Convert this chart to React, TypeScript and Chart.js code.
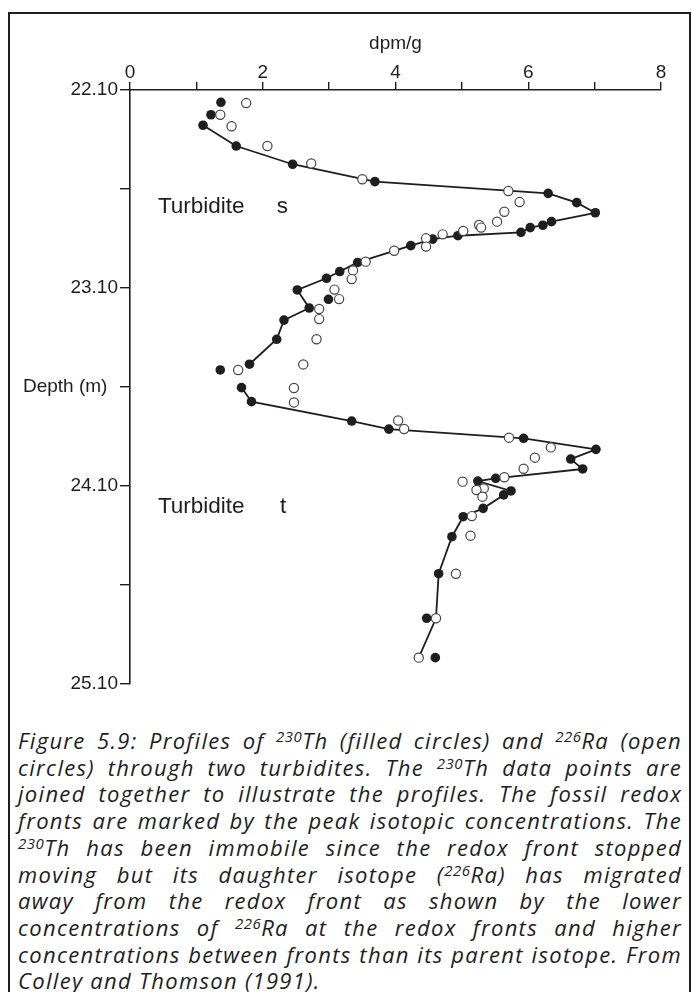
import React, { useEffect, useRef } from "react";
import { Chart, registerables } from "chart.js";

Chart.register(...registerables);

// 230Th (filled circles): activity (dpm/g) and depth (m)
const thValue = [1.37, 1.22, 1.10, 1.60, 2.45, 3.69, 6.30, 6.73, 7.01, 6.35, 6.22, 6.03, 5.89, 4.94, 4.56, 4.23, 3.43, 3.16, 2.96, 2.52, 2.99, 2.70, 2.32, 2.21, 1.80, 1.36, 1.68, 1.83, 3.34, 3.90, 5.93, 7.02, 6.64, 6.82, 5.51, 5.24, 5.74, 5.63, 5.32, 5.02, 4.85, 4.65, 4.47, 4.60];
const thDepth = [22.162, 22.225, 22.278, 22.383, 22.475, 22.563, 22.622, 22.669, 22.720, 22.765, 22.783, 22.795, 22.819, 22.836, 22.853, 22.886, 22.971, 23.017, 23.051, 23.110, 23.157, 23.201, 23.262, 23.359, 23.485, 23.514, 23.603, 23.674, 23.772, 23.813, 23.859, 23.915, 23.964, 24.014, 24.061, 24.075, 24.125, 24.145, 24.213, 24.255, 24.356, 24.543, 24.768, 24.967];

// 226Ra (open circles)
const raValue = [1.75, 1.36, 1.53, 2.07, 2.73, 3.50, 5.70, 5.87, 5.64, 5.53, 5.26, 5.29, 5.02, 4.71, 4.46, 4.46, 3.98, 3.55, 3.36, 3.34, 3.08, 3.15, 2.85, 2.85, 2.81, 2.61, 1.63, 2.47, 2.47, 4.04, 4.13, 5.71, 6.34, 6.10, 5.93, 5.64, 5.01, 5.33, 5.22, 5.31, 5.15, 5.13, 4.91, 4.61, 4.35];
const raDepth = [22.166, 22.225, 22.283, 22.383, 22.471, 22.551, 22.610, 22.666, 22.715, 22.765, 22.782, 22.795, 22.812, 22.829, 22.849, 22.891, 22.912, 22.967, 23.011, 23.055, 23.108, 23.156, 23.206, 23.257, 23.359, 23.486, 23.514, 23.605, 23.678, 23.769, 23.812, 23.856, 23.905, 23.957, 24.013, 24.056, 24.078, 24.112, 24.120, 24.154, 24.252, 24.351, 24.543, 24.768, 24.967];

// Joined profile (null = break in the line)
const profileValue = [1.10, 1.60, 2.45, 3.69, 6.30, 6.73, 7.01, 6.35, 6.22, 6.03, 5.89, 4.94, 4.56, 4.23, 3.43, 3.16, 2.96, 2.52, 2.70, 2.32, 2.21, 1.80, null, 1.68, 1.83, 3.34, 3.90, 5.93, 7.02, 6.64, 6.82, 5.51, 5.24, 5.74, 5.63, 5.32, 5.02, 4.85, 4.65, 4.61, 4.35];
const profileDepth = [22.278, 22.383, 22.475, 22.563, 22.622, 22.669, 22.720, 22.765, 22.783, 22.795, 22.819, 22.836, 22.853, 22.886, 22.971, 23.017, 23.051, 23.110, 23.201, 23.262, 23.359, 23.485, null, 23.603, 23.674, 23.772, 23.813, 23.859, 23.915, 23.964, 24.014, 24.061, 24.075, 24.125, 24.145, 24.213, 24.255, 24.356, 24.543, 24.768, 24.967];

const xTickLabels = ["0", "", "2", "", "4", "", "6", "", "8"];
const yTickValues = [22.1, 22.6, 23.1, 23.6, 24.1, 24.6, 25.1];
const yTickLabels = ["22.10", "", "23.10", "Depth (m)  ", "24.10", "", "25.10"];

const annotations = [
  { text: "Turbidite", x: 0.42, y: 22.69 },
  { text: "s", x: 2.21, y: 22.69 },
  { text: "Turbidite", x: 0.42, y: 24.205 },
  { text: "t", x: 2.26, y: 24.205 },
];

const INK = "#1e1e1e";
const FONT = '"Liberation Sans", Arial, Helvetica, sans-serif';

const labelPlugin = {
  id: "turbiditeLabels",
  afterDatasetsDraw(chart: any) {
    const { ctx, scales } = chart;
    ctx.save();
    ctx.font = `22.5px ${FONT}`;
    ctx.fillStyle = INK;
    ctx.textBaseline = "middle";
    ctx.textAlign = "left";
    for (const a of annotations) {
      ctx.fillText(a.text, scales.x.getPixelForValue(a.x), scales.y.getPixelForValue(a.y));
    }
    ctx.restore();
  },
};

function Sup({ children }: { children: React.ReactNode }) {
  return (
    <span style={{ fontSize: "0.68em", lineHeight: 0, verticalAlign: "0.5em", letterSpacing: "0.5px" }}>{children}</span>
  );
}

const lineStyle: React.CSSProperties = {
  textAlign: "justify",
  textAlignLast: "justify" as any,
  whiteSpace: "nowrap",
};

export default function App() {
  const canvasRef = useRef<HTMLCanvasElement | null>(null);

  useEffect(() => {
    const canvas = canvasRef.current;
    if (!canvas) return;
    const chart = new Chart(canvas, {
      type: "scatter",
      data: {
        datasets: [
          {
            label: "226Ra",
            data: raValue.map((v, i) => ({ x: v, y: raDepth[i] })),
            pointRadius: 4.6,
            pointBackgroundColor: "#ffffff",
            pointBorderColor: "#444444",
            pointBorderWidth: 1.2,
            showLine: false,
          },
          {
            label: "230Th",
            data: thValue.map((v, i) => ({ x: v, y: thDepth[i] })),
            pointRadius: 4.8,
            pointBackgroundColor: INK,
            pointBorderColor: INK,
            pointBorderWidth: 0,
            showLine: false,
          },
          {
            label: "profile",
            data: profileValue.map((v, i) => ({ x: v as any, y: profileDepth[i] as any })),
            pointRadius: 0,
            showLine: true,
            borderColor: INK,
            borderWidth: 1.8,
            tension: 0,
            spanGaps: false,
          },
        ],
      },
      options: {
        responsive: false,
        animation: false,
        devicePixelRatio: 1,
        layout: { padding: { top: 20, left: 0, right: 31, bottom: 36 } },
        plugins: { legend: { display: false }, tooltip: { enabled: false } },
        scales: {
          x: {
            type: "linear",
            position: "top",
            min: 0,
            max: 8,
            ticks: {
              stepSize: 1,
              color: INK,
              font: { family: FONT, size: 19, lineHeight: 1 },
              padding: 0,
              maxRotation: 0,
              autoSkip: false,
              callback: (_v: any, i: number) => xTickLabels[i],
            },
            grid: { drawOnChartArea: false, tickLength: 8, color: INK, lineWidth: 1.4 },
            border: { display: true, color: INK, width: 1.6 },
            title: {
              display: true,
              text: "dpm/g",
              color: INK,
              font: { family: FONT, size: 19 },
              padding: { top: 12, bottom: 0 },
            },
            afterFit: (s: any) => {
              s.height = 70;
            },
          },
          y: {
            type: "linear",
            position: "left",
            reverse: true,
            min: 22.1,
            max: 25.1,
            afterBuildTicks: (s: any) => {
              s.ticks = yTickValues.map((v) => ({ value: v }));
            },
            ticks: {
              color: INK,
              font: { family: FONT, size: 19, lineHeight: 1 },
              padding: 2,
              autoSkip: false,
              callback: (_v: any, i: number) => yTickLabels[i],
            },
            grid: { drawOnChartArea: false, tickLength: 10, color: INK, lineWidth: 1.4 },
            border: { display: true, color: INK, width: 1.6 },
            afterFit: (s: any) => {
              s.width = 130;
            },
          },
        },
      },
      plugins: [labelPlugin],
    });
    return () => chart.destroy();
  }, []);

  return (
    <div
      style={{
        position: "absolute",
        left: 0,
        top: 0,
        width: 692,
        height: 992,
        overflow: "hidden",
        background: "#ffffff",
      }}
    >
      <div
        style={{
          position: "absolute",
          left: 8,
          top: 12,
          width: 683,
          height: 1020,
          border: `2px solid ${INK}`,
          boxSizing: "border-box",
        }}
      />
      <canvas
        ref={canvasRef}
        width={692}
        height={720}
        style={{ position: "absolute", left: 0, top: 0, width: 692, height: 720 }}
      />
      <div
        style={{
          position: "absolute",
          left: 18,
          top: 727,
          width: 664,
          fontFamily: '"Open Sans", "DejaVu Sans", sans-serif',
          fontStyle: "italic",
          fontSize: 22,
          letterSpacing: "1.3px",
          lineHeight: "26.7px",
          color: INK,
        }}
      >
        <div style={lineStyle}>
          Figure 5.9: Profiles of <Sup>230</Sup>Th (filled circles) and <Sup>226</Sup>Ra (open
        </div>
        <div style={lineStyle}>
          circles) through two turbidites. The <Sup>230</Sup>Th data points are
        </div>
        <div style={lineStyle}>joined together to illustrate the profiles. The fossil redox</div>
        <div style={lineStyle}>fronts are marked by the peak isotopic concentrations. The</div>
        <div style={lineStyle}>
          <Sup>230</Sup>Th has been immobile since the redox front stopped
        </div>
        <div style={lineStyle}>
          moving but its daughter isotope (<Sup>226</Sup>Ra) has migrated
        </div>
        <div style={lineStyle}>away from the redox front as shown by the lower</div>
        <div style={lineStyle}>
          concentrations of <Sup>226</Sup>Ra at the redox fronts and higher
        </div>
        <div style={lineStyle}>concentrations between fronts than its parent isotope. From</div>
        <div style={{ whiteSpace: "nowrap" }}>Colley and Thomson (1991).</div>
      </div>
    </div>
  );
}
